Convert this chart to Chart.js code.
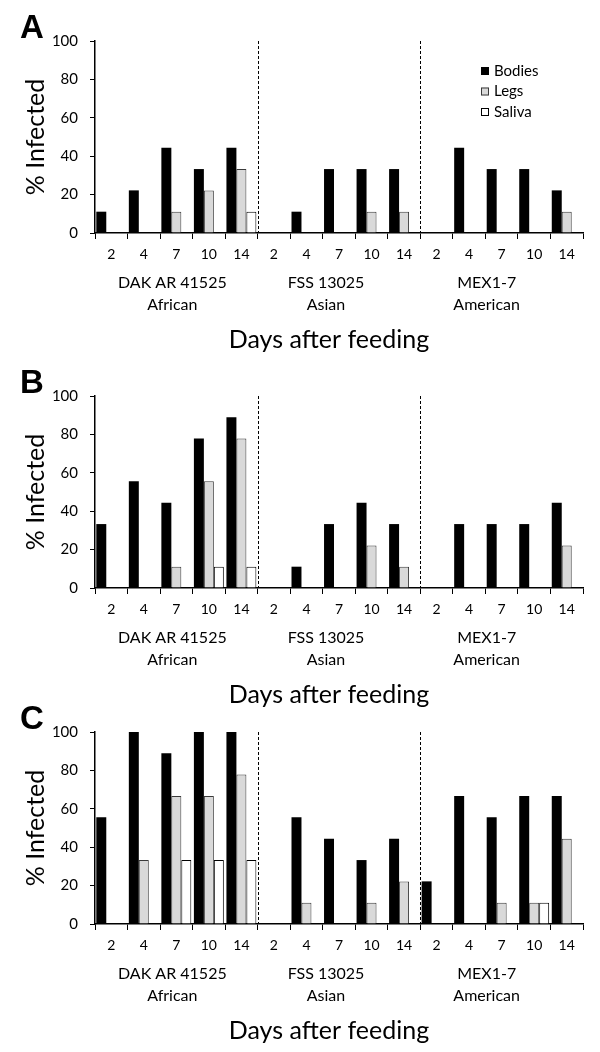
<!DOCTYPE html>
<html><head><meta charset="utf-8">
<script src="https://cdn.jsdelivr.net/npm/chart.js@4/dist/chart.umd.min.js"></script>
<style>
html,body{margin:0;padding:0;background:#fff}
body{width:600px;height:1052px;position:relative;overflow:hidden}
canvas{position:absolute;left:0}
</style></head><body>
<canvas id="cA" width="600" height="360" style="top:0"></canvas>
<canvas id="cB" width="600" height="360" style="top:355px"></canvas>
<canvas id="cC" width="600" height="360" style="top:691px"></canvas>
<script>
// ---- data ----
const days = ['2','4','7','10','14'];
const strainNames = ['DAK AR 41525','FSS 13025','MEX1-7'];
const lineages = ['African','Asian','American'];
const categories = [...days, ...days, ...days];
const seriesNames = ['Bodies','Legs','Saliva'];
const yTickMax = 100;
const yTickStep = 20;
const xTitle = 'Days after feeding';
const yTitle = '% Infected';

const bodiesA = [11.1,22.2,44.4,33.3,44.4, 0,11.1,33.3,33.3,33.3, 0,44.4,33.3,33.3,22.2];
const legsA   = [0,0,11.1,22.2,33.3,       0,0,0,11.1,11.1,       0,0,0,0,11.1];
const salivaA = [0,0,0,0,11.1,             0,0,0,0,0,             0,0,0,0,0];

const bodiesB = [33.3,55.6,44.4,77.8,88.9, 0,11.1,33.3,44.4,33.3, 0,33.3,33.3,33.3,44.4];
const legsB   = [0,0,11.1,55.6,77.8,       0,0,0,22.2,11.1,       0,0,0,0,22.2];
const salivaB = [0,0,0,11.1,11.1,          0,0,0,0,0,             0,0,0,0,0];

const bodiesC = [55.6,100,88.9,100,100,    0,55.6,44.4,33.3,44.4, 22.2,66.7,55.6,66.7,66.7];
const legsC   = [0,33.3,66.7,66.7,77.8,    0,11.1,0,11.1,22.2,    0,0,11.1,11.1,44.4];
const salivaC = [0,0,33.3,33.3,33.3,       0,0,0,0,0,             0,0,0,11.1,0];

// ---- styles ----
const fills = ['#000000','#d9d9d9','#ffffff'];
const borders = ['#000000','#3a3a3a','#000000'];
const FONT = 'Lato, "Open Sans", sans-serif';
Chart.defaults.font.family = FONT;
Chart.defaults.color = '#000';

const groupLabelShift = [-4, -13, -15];

const panelPlugin = {
  id: 'panelDecor',
  afterDraw(chart, args, opts) {
    const ctx = chart.ctx;
    const x = chart.scales.x, ca = chart.chartArea;
    ctx.save();
    // dashed separators
    ctx.strokeStyle = '#000';
    ctx.lineWidth = 1;
    ctx.setLineDash([3, 2]);
    [4, 9].forEach(i => {
      const px = Math.round((x.getPixelForValue(i) + x.getPixelForValue(i + 1)) / 2) + 0.5;
      ctx.beginPath();
      ctx.moveTo(px, ca.top);
      ctx.lineTo(px, ca.bottom);
      ctx.stroke();
    });
    ctx.setLineDash([]);
    // group labels
    ctx.fillStyle = '#000';
    ctx.textAlign = 'center';
    ctx.textBaseline = 'middle';
    ctx.font = '16px ' + FONT;
    for (let g = 0; g < 3; g++) {
      const cx = (x.getPixelForValue(g * 5) + x.getPixelForValue(g * 5 + 4)) / 2 + groupLabelShift[g];
      ctx.fillText(strainNames[g], cx, ca.bottom + 50);
      ctx.fillText(lineages[g], cx, ca.bottom + 72);
    }
    // x title
    ctx.font = '25px ' + FONT;
    ctx.fillText(xTitle, (ca.left + ca.right) / 2 - 10, ca.bottom + 107);
    // y title
    ctx.save();
    ctx.translate(36, (ca.top + ca.bottom) / 2);
    ctx.rotate(-Math.PI / 2);
    ctx.font = '25px ' + FONT;
    ctx.fillText(yTitle, 0, 0);
    ctx.restore();
    // panel letter
    ctx.font = 'bold 33px "Liberation Sans", Arial, sans-serif';
    ctx.textAlign = 'left';
    ctx.textBaseline = 'alphabetic';
    ctx.fillText(opts.letter, 20, 38);
    // legend
    if (opts.legend) {
      ctx.font = '15px ' + FONT;
      ctx.textBaseline = 'middle';
      chart.data.datasets.forEach((ds, i) => {
        const bx = ca.right - 102, by = 71 + i * 20.5;
        ctx.fillStyle = ds.backgroundColor;
        ctx.fillRect(bx, by - 4, 8, 8);
        ctx.strokeStyle = ds.borderColor;
        ctx.lineWidth = 1;
        ctx.strokeRect(bx + 0.5, by - 3.5, 7, 7);
        ctx.fillStyle = '#000';
        ctx.fillText(ds.label, bx + 13, by);
      });
    }
    ctx.restore();
  }
};

function makePanel(id, letter, series, legend) {
  new Chart(document.getElementById(id), {
    type: 'bar',
    data: {
      labels: categories,
      datasets: series.map((vals, i) => ({
        label: seriesNames[i],
        data: vals,
        backgroundColor: fills[i],
        borderColor: borders[i],
        borderWidth: i === 0 ? 0 : 1,
        categoryPercentage: 0.92,
        barPercentage: 1.0
      }))
    },
    options: {
      responsive: false,
      animation: false,
      events: [],
      layout: { padding: { left: 45, right: 17, top: 41, bottom: 0 } },
      plugins: {
        legend: { display: false },
        tooltip: { enabled: false },
        panelDecor: { letter, legend }
      },
      scales: {
        x: {
          grid: { display: true, offset: true, drawOnChartArea: false, drawTicks: true, tickLength: 6, color: '#000', lineWidth: 1 },
          border: { display: true, color: '#000', width: 1.5 },
          ticks: { font: { size: 14 }, color: '#000', padding: 7, maxRotation: 0, autoSkip: false },
          afterFit(s) { s.height = 127; }
        },
        y: {
          min: 0, max: yTickMax,
          grid: { display: true, drawOnChartArea: false, drawTicks: true, tickLength: 5, color: '#000', lineWidth: 1 },
          border: { display: true, color: '#000', width: 1.5 },
          ticks: { stepSize: yTickStep, font: { size: 15 }, color: '#000', padding: 12 },
          afterFit(s) { s.width = 50; }
        }
      }
    },
    plugins: [panelPlugin]
  });
}

makePanel('cA', 'A', [bodiesA, legsA, salivaA], true);
makePanel('cB', 'B', [bodiesB, legsB, salivaB], false);
makePanel('cC', 'C', [bodiesC, legsC, salivaC], false);
</script>
</body></html>
